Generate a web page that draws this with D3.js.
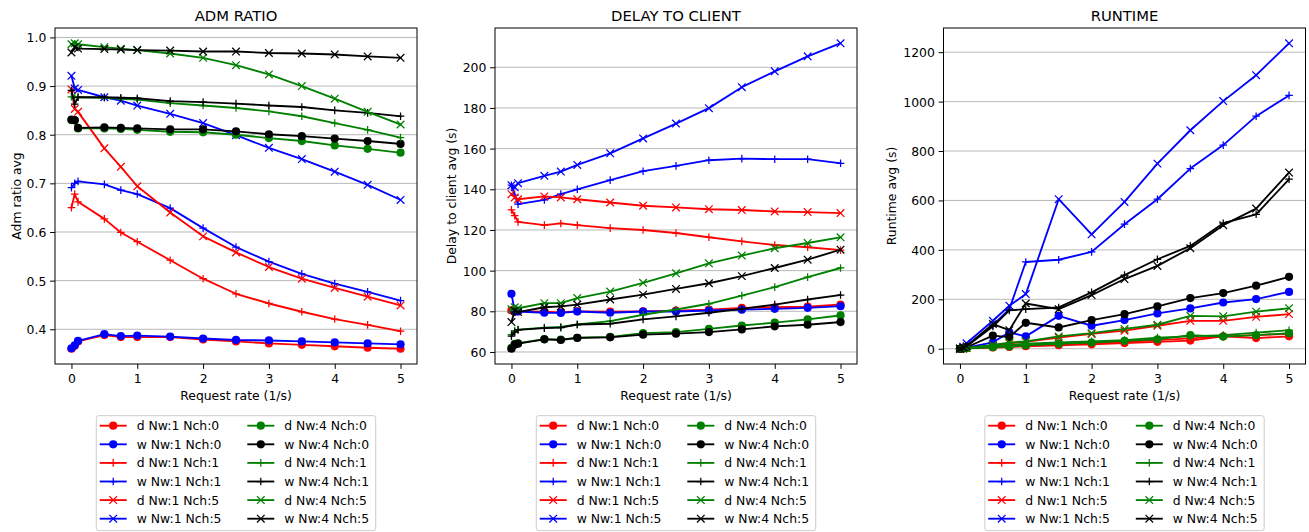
<!DOCTYPE html>
<html>
<head>
<meta charset="utf-8">
<script src="https://cdn.jsdelivr.net/npm/d3@7"></script>
<style>
  html, body { margin: 0; padding: 0; background: #fff; }
  svg { display: block; font-family: "DejaVu Sans", sans-serif; }
</style>
</head>
<body>
<svg id="chart" width="1309" height="532"></svg>
<script>
// ---------------- DATA ----------------
const xValues = [0, 0.05, 0.1, 0.5, 0.75, 1, 1.5, 2, 2.5, 3, 3.5, 4, 4.5, 5];

const seriesLabels = [
  "d Nw:1 Nch:0", "w Nw:1 Nch:0", "d Nw:1 Nch:1", "w Nw:1 Nch:1", "d Nw:1 Nch:5", "w Nw:1 Nch:5",
  "d Nw:4 Nch:0", "w Nw:4 Nch:0", "d Nw:4 Nch:1", "w Nw:4 Nch:1", "d Nw:4 Nch:5", "w Nw:4 Nch:5"
];

const panelTitles = ["ADM RATIO", "DELAY TO CLIENT", "RUNTIME"];
const yLabels = ["Adm ratio avg", "Delay to client avg (s)", "Runtime avg (s)"];
const xLabel = "Request rate (1/s)";
const xTicks = [0, 1, 2, 3, 4, 5];
const yTicksAdm = [0.4, 0.5, 0.6, 0.7, 0.8, 0.9, 1.0];
const yTicksDelay = [60, 80, 100, 120, 140, 160, 180, 200];
const yTicksRuntime = [0, 200, 400, 600, 800, 1000, 1200];

const admRatio = [
  [0.360, 0.366, 0.375, 0.388, 0.384, 0.384, 0.384, 0.379, 0.375, 0.371, 0.368, 0.365, 0.362, 0.360],
  [0.361, 0.367, 0.376, 0.390, 0.386, 0.387, 0.385, 0.381, 0.378, 0.377, 0.375, 0.373, 0.371, 0.369],
  [0.650, 0.678, 0.662, 0.627, 0.599, 0.580, 0.542, 0.504, 0.473, 0.453, 0.436, 0.421, 0.409, 0.396],
  [0.691, 0.700, 0.704, 0.698, 0.686, 0.678, 0.649, 0.608, 0.569, 0.539, 0.514, 0.494, 0.477, 0.459],
  [0.893, 0.853, 0.847, 0.772, 0.734, 0.694, 0.640, 0.591, 0.558, 0.528, 0.504, 0.485, 0.467, 0.449],
  [0.921, 0.895, 0.892, 0.877, 0.870, 0.860, 0.843, 0.824, 0.799, 0.773, 0.750, 0.724, 0.697, 0.666],
  [0.830, 0.829, 0.813, 0.813, 0.812, 0.810, 0.806, 0.805, 0.800, 0.793, 0.787, 0.778, 0.771, 0.763],
  [0.831, 0.830, 0.814, 0.815, 0.814, 0.813, 0.811, 0.811, 0.807, 0.801, 0.797, 0.792, 0.787, 0.781],
  [0.878, 0.878, 0.877, 0.876, 0.874, 0.872, 0.865, 0.860, 0.855, 0.848, 0.838, 0.824, 0.810, 0.794],
  [0.891, 0.863, 0.877, 0.877, 0.876, 0.875, 0.869, 0.867, 0.864, 0.860, 0.857, 0.850, 0.845, 0.838],
  [0.986, 0.988, 0.986, 0.980, 0.977, 0.974, 0.967, 0.958, 0.943, 0.924, 0.900, 0.874, 0.847, 0.821],
  [0.969, 0.980, 0.977, 0.976, 0.975, 0.974, 0.973, 0.971, 0.971, 0.968, 0.967, 0.965, 0.961, 0.958]
];

const delayToClient = [
  [80.5, 80.0, 80.0, 79.8, 79.5, 80.0, 79.8, 80.0, 80.3, 80.8, 81.7, 82.0, 82.3, 83.3],
  [88.6, 79.9, 79.9, 79.3, 79.2, 79.9, 79.3, 79.9, 79.9, 80.4, 80.8, 81.2, 81.7, 82.5],
  [129.9, 127.0, 124.0, 122.4, 123.2, 122.4, 120.9, 120.0, 118.5, 116.4, 114.4, 112.6, 111.5, 110.1],
  [142.0, 137.0, 132.7, 134.8, 137.6, 140.0, 144.5, 148.9, 151.5, 154.3, 155.1, 154.8, 154.8, 152.8],
  [137.6, 136.0, 135.1, 136.5, 136.0, 135.1, 133.5, 131.9, 131.1, 130.2, 129.8, 129.1, 128.8, 128.3],
  [142.0, 141.0, 143.0, 146.6, 148.7, 152.0, 157.7, 165.0, 172.3, 179.9, 190.2, 198.0, 205.4, 211.8],
  [62.0, 64.0, 64.3, 66.3, 66.1, 67.0, 67.4, 69.3, 69.8, 71.4, 73.0, 74.4, 76.0, 78.0],
  [61.6, 63.6, 64.1, 66.2, 65.9, 66.9, 67.2, 68.5, 69.0, 69.8, 71.1, 72.6, 73.4, 74.7],
  [68.5, 70.5, 71.0, 72.0, 72.3, 73.5, 75.2, 78.3, 80.9, 83.7, 87.7, 91.9, 96.8, 101.3],
  [67.8, 69.8, 70.9, 71.7, 72.0, 73.5, 73.9, 76.0, 77.5, 79.3, 81.2, 83.3, 85.8, 88.0],
  [81.0, 82.0, 81.5, 84.0, 84.0, 86.5, 89.7, 94.0, 98.7, 103.6, 107.4, 111.0, 113.6, 116.4],
  [74.7, 80.4, 79.6, 82.0, 82.4, 83.3, 85.8, 88.2, 91.0, 93.8, 97.3, 101.3, 105.4, 110.3]
];

const runtime = [
  [0, 1, 2, 5, 7, 10, 14, 18, 23, 28, 33, 50, 43, 50],
  [0, 2, 4, 26, 66, 50, 133, 93, 116, 143, 163, 187, 201, 230],
  [0, 1, 2, 8, 10, 12, 18, 22, 28, 35, 42, 50, 55, 60],
  [0, 5, 12, 95, 160, 351, 360, 392, 504, 605, 729, 824, 941, 1025],
  [0, 1, 3, 13, 22, 28, 45, 60, 73, 93, 113, 113, 129, 140],
  [0, 8, 22, 113, 174, 221, 605, 463, 594, 749, 884, 1002, 1107, 1236],
  [0, 1, 2, 6, 9, 14, 20, 25, 32, 38, 55, 49, 55, 63],
  [0, 3, 6, 53, 47, 105, 86, 116, 140, 171, 205, 225, 255, 291],
  [0, 1, 2, 10, 15, 20, 25, 30, 35, 45, 50, 55, 65, 75],
  [0, 5, 10, 90, 155, 160, 167, 228, 298, 362, 416, 508, 544, 686],
  [0, 1, 3, 15, 25, 30, 50, 63, 80, 97, 133, 131, 150, 164],
  [0, 5, 10, 100, 75, 183, 160, 217, 282, 335, 407, 500, 567, 713]
];

// ---------------- STYLE ----------------
const colorByGroup = { "d1": "#ff0000", "w1": "#0000ff", "d4": "#008000", "w4": "#000000" };
function seriesColor(label) {
  const t = label[0];
  const nw = label.match(/Nw:(\d)/)[1];
  return colorByGroup[t + nw];
}
function seriesMarker(label) {
  const nch = label.match(/Nch:(\d)/)[1];
  return nch === "0" ? "o" : (nch === "1" ? "+" : "x");
}

const FS = 12.4;
const panels = [
  { x0: 55, x1: 417, data: admRatio, ticks: yTicksAdm, fmt: d3.format(".1f") },
  { x0: 495, x1: 857, data: delayToClient, ticks: yTicksDelay, fmt: d3.format("d") },
  { x0: 943.5, x1: 1305.5, data: runtime, ticks: yTicksRuntime, fmt: d3.format("d") }
];
const Y0 = 28, Y1 = 364;

const svg = d3.select("#chart");
svg.append("rect").attr("width", 1309).attr("height", 532).attr("fill", "#fff");

function drawMarker(g, type, color, x, y) {
  const s = 3.8;
  if (type === "o") {
    g.append("circle").attr("cx", x).attr("cy", y).attr("r", 4.1).attr("fill", color);
  } else if (type === "+") {
    g.append("path").attr("d", `M${x - s},${y}H${x + s}M${x},${y - s}V${y + s}`)
      .attr("stroke", color).attr("stroke-width", 1.25).attr("fill", "none");
  } else {
    g.append("path").attr("d", `M${x - s},${y - s}L${x + s},${y + s}M${x - s},${y + s}L${x + s},${y - s}`)
      .attr("stroke", color).attr("stroke-width", 1.25).attr("fill", "none");
  }
}

panels.forEach((p, pi) => {
  const xExt = d3.extent(xValues);
  const xPad = (xExt[1] - xExt[0]) * 0.05;
  const x = d3.scaleLinear().domain([xExt[0] - xPad, xExt[1] + xPad]).range([p.x0, p.x1]);
  const all = p.data.flat();
  const yExt = d3.extent(all);
  const yPad = (yExt[1] - yExt[0]) * 0.05;
  const y = d3.scaleLinear().domain([yExt[0] - yPad, yExt[1] + yPad]).range([Y1, Y0]);

  const g = svg.append("g");

  // grid
  g.append("g").selectAll("line").data(p.ticks).join("line")
    .attr("x1", p.x0).attr("x2", p.x1)
    .attr("y1", d => y(d)).attr("y2", d => y(d))
    .attr("stroke", "#b0b0b0").attr("stroke-width", 0.9);

  // series
  const line = d3.line().x((d, i) => x(xValues[i])).y(d => y(d));
  seriesLabels.forEach((lab, si) => {
    const col = seriesColor(lab);
    const mk = seriesMarker(lab);
    const sg = g.append("g");
    sg.append("path").datum(p.data[si]).attr("d", line)
      .attr("fill", "none").attr("stroke", col).attr("stroke-width", 1.85)
      .attr("stroke-linejoin", "round").attr("stroke-linecap", "square");
    p.data[si].forEach((v, i) => drawMarker(sg, mk, col, x(xValues[i]), y(v)));
  });

  // axes
  const xAxis = d3.axisBottom(x).tickValues(xTicks).tickSize(4.9).tickPadding(4).tickFormat(d3.format("d"));
  const xa = svg.append("g").attr("transform", `translate(0,${Y1})`).call(xAxis);
  const yAxis = d3.axisLeft(y).tickValues(p.ticks).tickSize(4.9).tickPadding(3.8).tickFormat(p.fmt);
  const ya = svg.append("g").attr("transform", `translate(${p.x0},0)`).call(yAxis);
  [xa, ya].forEach(a => {
    a.select(".domain").remove();
    a.selectAll(".tick line").attr("stroke", "#000").attr("stroke-width", 1);
    a.selectAll(".tick text").attr("fill", "#000").attr("font-size", FS).attr("font-family", "DejaVu Sans");
  });
  xa.selectAll(".tick text").attr("dy", null).attr("y", 19.3);
  ya.selectAll(".tick text").attr("dy", null).attr("y", 4.5);

  // frame
  svg.append("rect").attr("x", p.x0).attr("y", Y0).attr("width", p.x1 - p.x0).attr("height", Y1 - Y0)
    .attr("fill", "none").attr("stroke", "#000").attr("stroke-width", 1);

  const cx = (p.x0 + p.x1) / 2;
  // title
  svg.append("text").attr("x", cx).attr("y", 20.6).attr("text-anchor", "middle")
    .attr("font-size", 14.8).attr("fill", "#000").text(panelTitles[pi]);
  // x label
  svg.append("text").attr("x", cx).attr("y", 400).attr("text-anchor", "middle")
    .attr("font-size", FS).attr("fill", "#000").text(xLabel);
  // y label
  const labOff = [34.3, 39.2, 47.6][pi];
  svg.append("text").attr("transform", `translate(${p.x0 - labOff},${(Y0 + Y1) / 2}) rotate(-90)`)
    .attr("text-anchor", "middle").attr("font-size", FS).attr("fill", "#000").text(yLabels[pi]);

  // legend
  const lw = 279.4, lh = 115, lx = cx - lw / 2, ly = 415.7;
  const lg = svg.append("g");
  lg.append("rect").attr("x", lx).attr("y", ly).attr("width", lw).attr("height", lh)
    .attr("rx", 2.5).attr("fill", "#fff").attr("fill-opacity", 0.8)
    .attr("stroke", "#cccccc").attr("stroke-width", 1);
  seriesLabels.forEach((lab, si) => {
    const col = Math.floor(si / 6), row = si % 6;
    const hx = lx + (col === 0 ? 3.4 : 151);
    const ry = ly + 10 + row * 18.6;
    const c = seriesColor(lab);
    lg.append("line").attr("x1", hx).attr("x2", hx + 27).attr("y1", ry).attr("y2", ry)
      .attr("stroke", c).attr("stroke-width", 1.85);
    drawMarker(lg, seriesMarker(lab), c, hx + 13.5, ry);
    lg.append("text").attr("x", hx + 37).attr("y", ry + 4.4).attr("font-size", FS)
      .attr("fill", "#000").text(lab);
  });
});
</script>
</body>
</html>
